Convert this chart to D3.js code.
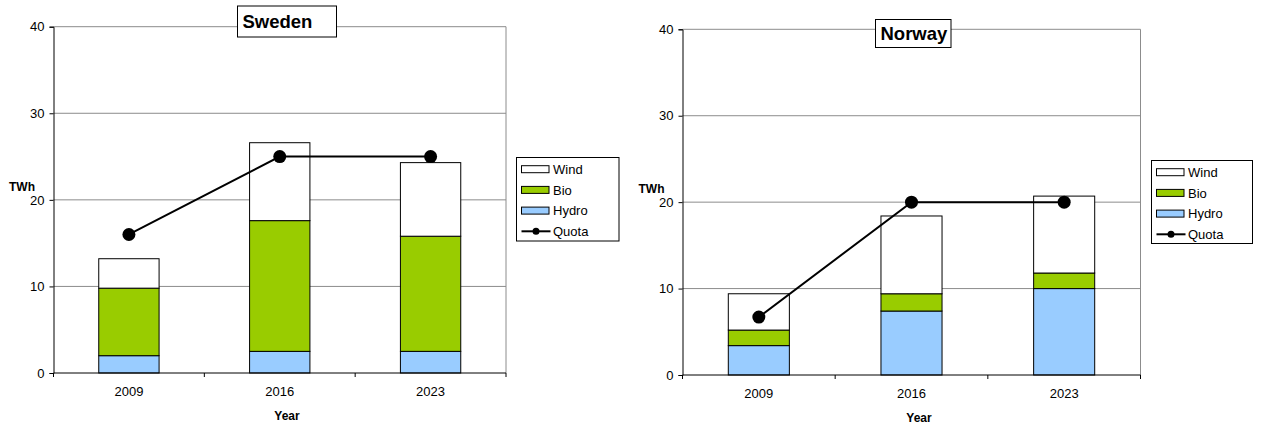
<!DOCTYPE html>
<html>
<head>
<meta charset="utf-8">
<script src="https://cdn.jsdelivr.net/npm/d3@7"></script>
<style>
  html, body { margin: 0; padding: 0; background: #fff; }
  svg { display: block; font-family: "Liberation Sans", Arial, sans-serif; }
</style>
</head>
<body>
<svg id="chart" width="1263" height="425"></svg>
<script>
// Renewable electricity by source (TWh), stacked Hydro -> Bio -> Wind, with quota line
const years = ["2009", "2016", "2023"];
const seriesKeys = ["Hydro", "Bio", "Wind"];
const legendOrder = ["Wind", "Bio", "Hydro", "Quota"];
const yTicks = [0, 10, 20, 30, 40];

const swedenHydro = [2.0, 2.5, 2.5];
const swedenBio = [7.8, 15.1, 13.3];
const swedenWind = [3.4, 9.0, 8.5];
const swedenQuota = [16, 25, 25];

const norwayHydro = [3.4, 7.4, 10.0];
const norwayBio = [1.8, 2.0, 1.8];
const norwayWind = [4.2, 9.0, 8.9];
const norwayQuota = [6.7, 20, 20];

const colors = { Hydro: "#99ccff", Bio: "#99cc00", Wind: "#ffffff" };

const svg = d3.select("#chart");

function drawPanel(cfg) {
  const { title, hydro, bio, wind, quota, box, titleBox, legendBox } = cfg;
  const rows = years.map((yr, i) => ({ year: yr, Hydro: hydro[i], Bio: bio[i], Wind: wind[i], Quota: quota[i] }));

  const x = d3.scaleBand().domain(years).range([box.left, box.right])
    .paddingInner(0.6).paddingOuter(0.3);
  const y = d3.scaleLinear().domain([0, 40]).range([box.bottom, box.top]);
  const step = x.step();
  const bandStart = box.left;

  const g = svg.append("g");

  // gridlines
  g.append("g").selectAll("line").data(yTicks.filter(t => t > 0)).join("line")
    .attr("x1", box.left).attr("x2", box.right)
    .attr("y1", d => y(d)).attr("y2", d => y(d))
    .attr("stroke", "#8c8c8c").attr("stroke-width", 1);
  // right border of plot area
  g.append("line")
    .attr("x1", box.right).attr("x2", box.right)
    .attr("y1", y(40)).attr("y2", y(0))
    .attr("stroke", "#8c8c8c").attr("stroke-width", 1);

  // stacked bars
  const stacked = d3.stack().keys(seriesKeys)(rows);
  g.append("g").selectAll("g").data(stacked).join("g")
    .attr("fill", d => colors[d.key])
    .selectAll("rect").data(d => d).join("rect")
    .attr("x", d => x(d.data.year))
    .attr("width", x.bandwidth())
    .attr("y", d => y(d[1]))
    .attr("height", d => y(d[0]) - y(d[1]))
    .attr("stroke", "#000").attr("stroke-width", 1);

  // y axis
  const yAxis = d3.axisLeft(y).tickValues(yTicks).tickSize(4).tickPadding(5);
  const ya = g.append("g").attr("transform", `translate(${box.left},0)`).call(yAxis);
  ya.select(".domain").attr("stroke", "#000");
  ya.selectAll(".tick line").attr("stroke", "#000");
  ya.selectAll(".tick text").attr("font-size", 13).attr("fill", "#000")
    .attr("font-family", "Liberation Sans, Arial, sans-serif");

  // x axis baseline, boundary ticks and category labels
  g.append("line")
    .attr("x1", box.left).attr("x2", box.right)
    .attr("y1", y(0)).attr("y2", y(0))
    .attr("stroke", "#000").attr("stroke-width", 1);
  g.append("g").selectAll("line").data(d3.range(years.length + 1)).join("line")
    .attr("x1", i => bandStart + i * step).attr("x2", i => bandStart + i * step)
    .attr("y1", y(0)).attr("y2", y(0) + 4)
    .attr("stroke", "#000");
  g.append("g").selectAll("text").data(years).join("text")
    .attr("x", d => x(d) + x.bandwidth() / 2)
    .attr("y", y(0) + 23)
    .attr("text-anchor", "middle").attr("font-size", 13).attr("fill", "#000")
    .text(d => d);

  // quota line
  const line = d3.line().x(d => x(d.year) + x.bandwidth() / 2).y(d => y(d.Quota));
  g.append("path").datum(rows).attr("d", line)
    .attr("fill", "none").attr("stroke", "#000").attr("stroke-width", 2);
  g.append("g").selectAll("circle").data(rows).join("circle")
    .attr("cx", d => x(d.year) + x.bandwidth() / 2).attr("cy", d => y(d.Quota))
    .attr("r", 6.5).attr("fill", "#000");

  // axis titles
  g.append("text").attr("x", cfg.twh.x).attr("y", cfg.twh.y)
    .attr("font-size", 12).attr("font-weight", "bold").text("TWh");
  g.append("text").attr("x", cfg.yearLabel.x).attr("y", cfg.yearLabel.y)
    .attr("text-anchor", "middle").attr("font-size", 12).attr("font-weight", "bold").text("Year");

  // title box
  g.append("rect").attr("x", titleBox.x).attr("y", titleBox.y)
    .attr("width", titleBox.w).attr("height", titleBox.h)
    .attr("fill", "#fff").attr("stroke", "#000").attr("stroke-width", 1);
  g.append("text").attr("x", titleBox.x + 5).attr("y", titleBox.baseline)
    .attr("font-size", 18.5).attr("font-weight", "bold").text(title);

  // legend
  const lg = g.append("g").attr("transform", `translate(${legendBox.x},${legendBox.y})`);
  lg.append("rect").attr("width", legendBox.w).attr("height", legendBox.h)
    .attr("fill", "#fff").attr("stroke", "#000").attr("stroke-width", 1);
  const item = lg.selectAll("g").data(legendOrder).join("g")
    .attr("transform", (d, i) => `translate(5,${11.7 + i * 20.7})`);
  item.filter(d => d !== "Quota").append("rect")
    .attr("x", 0).attr("y", -3.5).attr("width", 27.5).attr("height", 7)
    .attr("fill", d => colors[d]).attr("stroke", "#000").attr("stroke-width", 1);
  const q = item.filter(d => d === "Quota");
  q.append("line").attr("x1", 0).attr("x2", 29).attr("y1", 0).attr("y2", 0)
    .attr("stroke", "#000").attr("stroke-width", 2);
  q.append("circle").attr("cx", 14.5).attr("cy", 0).attr("r", 3.5).attr("fill", "#000");
  item.append("text").attr("x", 31.5).attr("y", 0).attr("dy", "0.36em")
    .attr("font-size", 13).attr("fill", "#000").text(d => d);
}

drawPanel({
  title: "Sweden",
  hydro: swedenHydro, bio: swedenBio, wind: swedenWind, quota: swedenQuota,
  box: { left: 53.5, right: 506, top: 26.7, bottom: 373 },
  titleBox: { x: 237.5, y: 6, w: 99, h: 31, baseline: 27.5 },
  legendBox: { x: 516.5, y: 157.5, w: 102.5, h: 83.5 },
  twh: { x: 9, y: 190.5 },
  yearLabel: { x: 287, y: 420 }
});

drawPanel({
  title: "Norway",
  hydro: norwayHydro, bio: norwayBio, wind: norwayWind, quota: norwayQuota,
  box: { left: 682.5, right: 1140.5, top: 29.3, bottom: 375 },
  titleBox: { x: 875.5, y: 19.5, w: 75.5, h: 28, baseline: 40 },
  legendBox: { x: 1151.5, y: 160.5, w: 101, h: 83 },
  twh: { x: 638.5, y: 192.5 },
  yearLabel: { x: 919, y: 421.5 }
});
</script>
</body>
</html>
